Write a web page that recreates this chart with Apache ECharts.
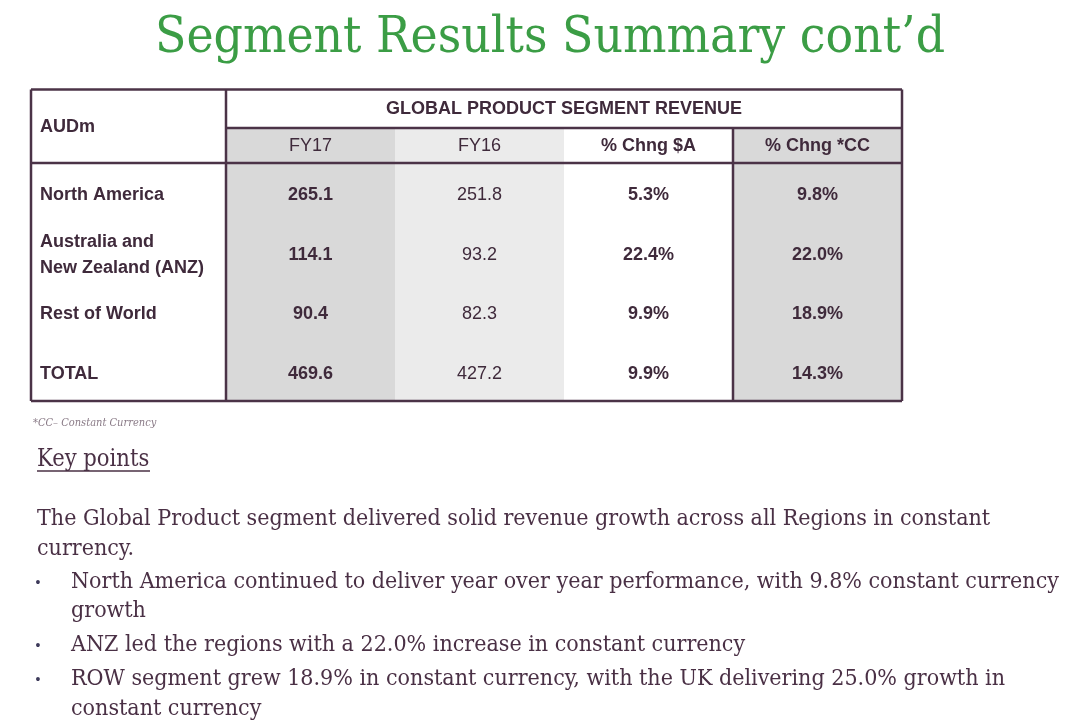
<!DOCTYPE html>
<html>
<head>
<meta charset="utf-8">
<script src="https://cdn.jsdelivr.net/npm/echarts@6/dist/echarts.min.js"></script>
<style>
  html, body { margin: 0; padding: 0; background: #ffffff; }
  #chart { width: 1092px; height: 727px; }
</style>
</head>
<body>
<div id="chart"></div>
<script>
// ---- Data ----
const columns = ['FY17', 'FY16', '% Chng $A', '% Chng *CC'];
const regions = ['North America', 'Australia and\nNew Zealand (ANZ)', 'Rest of World', 'TOTAL'];
const fy17 = [265.1, 114.1, 90.4, 469.6];
const fy16 = [251.8, 93.2, 82.3, 427.2];
const chngA = [5.3, 22.4, 9.9, 9.9];
const chngCC = [9.8, 22.0, 18.9, 14.3];
const tableTitle = 'GLOBAL PRODUCT SEGMENT REVENUE';
const unitLabel = 'AUDm';
const slideTitle = 'Segment Results Summary cont\u2019d';
const footnote = '*CC\u2013 Constant Currency';
const keyHeading = 'Key points';
const intro = ['The Global Product segment delivered solid revenue growth across all Regions in constant', 'currency.'];
const bullets = [
  ['North America continued to deliver year over year performance, with 9.8% constant currency', 'growth'],
  ['ANZ led the regions with a 22.0% increase in constant currency'],
  ['ROW segment grew 18.9% in constant currency, with the UK delivering 25.0% growth in', 'constant currency']
];

// ---- Styles ----
const SANS = '"Liberation Sans", Arial, sans-serif';
const SERIF = '"DejaVu Serif Condensed", "DejaVu Serif", serif';
const TXT = '#3f2a3b';
const LINE = '#4b3347';
const BODY = '#4a3045';
const colFills = ['#d9d9d9', '#ebebeb', '#ffffff', '#d9d9d9'];
const colBold = [true, false, true, true];
const headBold = [false, false, true, true];
const FS = 18;

const seriesValues = [fy17, fy16, chngA, chngCC];
const cellData = [];
seriesValues.forEach((arr, c) => {
  arr.forEach((v, r) => {
    const txt = c < 2 ? v.toFixed(1) : v.toFixed(1) + '%';
    cellData.push([c, r, txt]);
  });
});
const colData = columns.map((_, c) => [c, 0]);

// table frame (lines)
const T = { left: 31, right: 902, top: 89.5, headTop: 128, headBottom: 163, bottom: 401, split: 733, labelCol: 226 };
const G = { left: T.labelCol, right: 1092 - T.right, top: 165, bottom: 727 - 404 };

const chart = echarts.init(document.getElementById('chart'), null, { renderer: 'canvas' });

const graphics = [];
graphics.push({ type: 'text', z: 200, style: { text: slideTitle, x: 550, y: 39, align: 'center', verticalAlign: 'middle', font: 'normal 51px ' + SERIF, fill: '#3b9d45' } });
graphics.push({ type: 'text', z: 200, style: { text: unitLabel, x: 40, y: 127, align: 'left', verticalAlign: 'middle', font: 'bold ' + FS + 'px ' + SANS, fill: TXT } });
const lw = 2.5;
function ln(x1, y1, x2, y2) {
  graphics.push({ type: 'line', z: 150, shape: { x1, y1, x2, y2 }, style: { stroke: LINE, lineWidth: lw } });
}
ln(T.left, T.top, T.right, T.top);
ln(T.left, T.bottom, T.right, T.bottom);
ln(T.left, T.top, T.left, T.bottom);
ln(T.right, T.top, T.right, T.bottom);
ln(T.labelCol, T.top, T.labelCol, T.bottom);
ln(T.labelCol, T.headTop, T.right, T.headTop);
ln(T.left, T.headBottom, T.right, T.headBottom);
ln(T.split, T.headTop, T.split, T.bottom);
graphics.push({ type: 'text', z: 200, style: { text: footnote, x: 33, y: 423, align: 'left', verticalAlign: 'middle', font: 'italic 11px ' + SERIF, fill: '#8a7b87' } });
graphics.push({ type: 'text', z: 200, style: { text: keyHeading, x: 37, y: 460, align: 'left', verticalAlign: 'middle', font: 'normal 23.5px ' + SERIF, fill: BODY } });
graphics.push({ type: 'line', z: 200, shape: { x1: 37, y1: 471, x2: 150, y2: 471 }, style: { stroke: BODY, lineWidth: 1.5 } });
const lineYs = [519, 549];
intro.forEach((t, i) => {
  graphics.push({ type: 'text', z: 200, style: { text: t, x: 37, y: lineYs[i], align: 'left', verticalAlign: 'middle', font: 'normal 23px ' + SERIF, fill: BODY } });
});
const bulletYs = [[582, 611], [645], [679, 709]];
bullets.forEach((b, i) => {
  graphics.push({ type: 'text', z: 200, style: { text: '\u2022', x: 38, y: bulletYs[i][0] + 1, align: 'center', verticalAlign: 'middle', font: 'normal 14px ' + SANS, fill: '#3d3a5a' } });
  b.forEach((t, j) => {
    graphics.push({ type: 'text', z: 200, style: { text: t, x: 71, y: bulletYs[i][j], align: 'left', verticalAlign: 'middle', font: 'normal 23px ' + SERIF, fill: BODY } });
  });
});

const option = {
  backgroundColor: '#ffffff',
  animation: false,
  grid: { left: G.left, right: G.right, top: G.top, bottom: G.bottom, containLabel: false },
  xAxis: {
    type: 'category',
    position: 'top',
    z: 20,
    data: columns,
    name: tableTitle,
    nameLocation: 'middle',
    nameGap: 56,
    nameTextStyle: { fontFamily: SANS, fontWeight: 'bold', fontSize: FS, color: TXT, verticalAlign: 'middle' },
    axisLine: { show: false },
    axisTick: { show: false },
    splitLine: { show: false },
    axisLabel: {
      margin: 19,
      verticalAlign: 'middle',
      formatter: (v) => {
        const i = columns.indexOf(v);
        return headBold[i] ? '{b|' + v + '}' : '{n|' + v + '}';
      },
      rich: {
        b: { fontFamily: SANS, fontWeight: 'bold', fontSize: FS, color: TXT },
        n: { fontFamily: SANS, fontWeight: 'normal', fontSize: FS, color: TXT }
      }
    }
  },
  yAxis: {
    type: 'category',
    inverse: true,
    z: 20,
    data: regions,
    axisLine: { show: false },
    axisTick: { show: false },
    splitLine: { show: false },
    axisLabel: {
      align: 'left',
      margin: 186,
      fontFamily: SANS,
      fontWeight: 'bold',
      fontSize: FS,
      lineHeight: 26,
      color: TXT
    }
  },
  series: [
    {
      type: 'custom',
      name: 'columnBackground',
      data: colData,
      silent: true,
      z: 1,
      renderItem: (params, api) => {
        const c = api.value(0);
        const cx = api.coord([c, 0])[0];
        const w = api.size([1, 1])[0];
        return {
          type: 'rect',
          shape: { x: cx - w / 2, y: T.headTop, width: w, height: T.bottom - T.headTop },
          style: { fill: colFills[c] }
        };
      }
    },
    {
      type: 'custom',
      name: 'cells',
      data: cellData,
      silent: true,
      z: 2,
      encode: { x: 0, y: 1 },
      renderItem: (params, api) => {
        const c = api.value(0);
        const r = api.value(1);
        const p = api.coord([c, r]);
        const txt = cellData[params.dataIndex][2];
        return {
          type: 'text',
          style: {
            text: txt,
            x: p[0],
            y: p[1],
            align: 'center',
            verticalAlign: 'middle',
            font: (colBold[c] ? 'bold ' : 'normal ') + FS + 'px ' + SANS,
            fill: TXT
          }
        };
      }
    }
  ],
  graphic: graphics
};
chart.setOption(option);
</script>
</body>
</html>
